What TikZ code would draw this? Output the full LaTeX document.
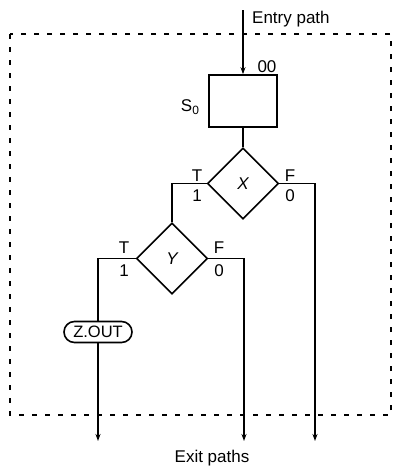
\documentclass[tikz,border=0pt]{standalone}
\usepackage{fontspec}
\setmainfont{Liberation Sans}
\usetikzlibrary{shapes.geometric,shapes.misc,arrows.meta}
\begin{document}
\begin{tikzpicture}[x=1pt,y=-1pt,
  line/.style={line width=1.6pt},
  arr/.style={line, -{Stealth[length=7pt,width=5pt]}},
  frame/.style={line width=1.6pt, dash pattern=on 5pt off 8pt},
  lbl/.style={inner sep=0pt, font=\fontsize{17}{20}\selectfont},
  statebox/.style={draw, line width=1.6pt, rectangle, minimum width=68pt, minimum height=52pt, inner sep=0pt},
  decision/.style={draw, line width=1.6pt, diamond, minimum width=71pt, minimum height=71pt, inner sep=0pt, font=\fontsize{17}{20}\selectfont\itshape},
  outbox/.style={draw, line width=1.6pt, rounded rectangle, minimum width=70pt, minimum height=21pt, inner sep=1pt, font=\fontsize{16.5}{19}\selectfont}
]
\useasboundingbox (0,0) rectangle (393,469);
% dashed frame
\draw[frame] (10,34) rectangle (391,415);
% nodes
\coordinate (entry) at (243,10);
\node[statebox] (s0) at (243,101) {};
\node[decision] (x) at (243,183.5) {X};
\node[decision] (y) at (172,258.5) {Y};
\node[outbox] (z) at (98,332) {Z.OUT};
\coordinate (e1) at (98,441);
\coordinate (e2) at (244,441);
\coordinate (e3) at (315,441);
% connectors
\draw[arr] (entry) -- (s0.north);
\draw[line] (s0.south) -- (x.north);
\draw[line] (x.west) -| (y.north);
\draw[arr] (x.east) -| (e3);
\draw[line] (y.west) -| (z.north);
\draw[arr] (z.south) -- (e1);
\draw[arr] (y.east) -| (e2);
% labels
\node[lbl, anchor=west] (entrylbl) at (252,19) {Entry path};
\node[lbl] (code) at (267,67) {00};
\node[lbl] (sname) at (190,107) {S\raisebox{-3pt}{\fontsize{12}{13}\selectfont 0}};
\node[lbl] (xt) at (197,176) {T};
\node[lbl] (x1) at (197,196) {1};
\node[lbl] (xf) at (290,176) {F};
\node[lbl] (x0) at (290,196) {0};
\node[lbl] (yt) at (124,248) {T};
\node[lbl] (y1) at (124,271) {1};
\node[lbl] (yf) at (219,248) {F};
\node[lbl] (y0) at (219,271) {0};
\node[lbl] (exitlbl) at (212,458) {Exit paths};
\end{tikzpicture}
\end{document}
